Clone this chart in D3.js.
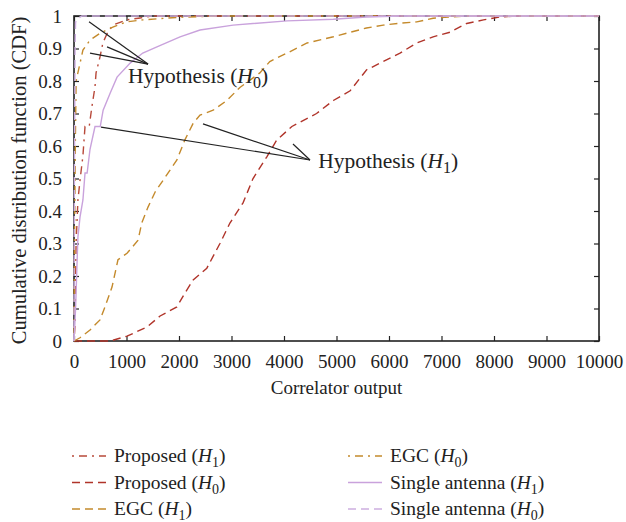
<!DOCTYPE html>
<html>
<head>
    <script src="https://cdn.jsdelivr.net/npm/d3@7"></script>
    <meta charset="utf-8">
    <style>
        body { margin: 0; background: #fff; }
        text { font-family: "Liberation Serif", "DejaVu Serif", serif; fill: #222; }
    </style>
</head>
<body>
    <script>
        // CDF curves, [correlator output, CDF]
        var proposedH1 = [[0,0],[20,0.05],[40,0.3],[75,0.434],[115,0.495],[170,0.57],[210,0.66],
            [290,0.66],[340,0.72],[400,0.782],[420,0.825],[495,0.874],[550,0.917],[630,0.946],
            [740,0.972],[1000,0.988],[1260,0.994],[1500,1],[10000,1]];
        var proposedH0 = [[0,0],[270,0],[690,0],[1010,0.015],[1390,0.043],[1640,0.077],[1960,0.105],
            [2110,0.147],[2270,0.188],[2530,0.224],[2780,0.3],[2970,0.363],[3220,0.425],[3410,0.5],
            [3670,0.566],[3860,0.618],[4150,0.66],[4500,0.69],[4620,0.7],[4940,0.74],[5260,0.77],
            [5570,0.834],[5890,0.86],[6210,0.886],[6530,0.917],[6840,0.936],[7160,0.95],[7480,0.977],
            [7800,0.988],[8110,0.997],[8430,1],[10000,1]];
        var egcH1 = [[0,0],[114,0.01],[305,0.034],[495,0.065],[590,0.105],[724,0.166],[838,0.25],
            [1010,0.27],[1220,0.31],[1290,0.363],[1410,0.412],[1550,0.46],[1700,0.495],[1960,0.557],
            [2110,0.618],[2270,0.67],[2400,0.695],[2650,0.71],[2910,0.74],[3160,0.78],[3540,0.825],
            [3730,0.86],[4060,0.886],[4440,0.917],[4940,0.936],[5260,0.95],[5570,0.963],[5890,0.972],
            [6210,0.978],[6530,0.982],[6840,0.993],[7160,0.997],[7500,1],[10000,1]];
        var egcH0 = [[0,0],[10,0.3],[25,0.6],[40,0.8],[115,0.855],[170,0.895],[305,0.926],[495,0.947],
            [740,0.966],[1000,0.982],[1310,0.988],[2000,0.996],[2800,1],[10000,1]];
        var singleH1 = [[0,0],[30,0.1],[60,0.25],[75,0.32],[115,0.382],[170,0.434],[210,0.517],
            [250,0.517],[305,0.59],[400,0.66],[500,0.66],[555,0.71],[690,0.763],[820,0.812],
            [1070,0.855],[1310,0.886],[1580,0.905],[2020,0.936],[2400,0.957],[3030,0.972],
            [4060,0.985],[4940,0.99],[5570,0.997],[6200,1],[10000,1]];
        var singleH0 = [[0,0],[8,0.5],[20,0.9],[30,0.98],[55,0.99],[150,1],[10000,1]];

        var xTicks = [0,1000,2000,3000,4000,5000,6000,7000,8000,9000,10000];
        var yTicks = [0,0.1,0.2,0.3,0.4,0.5,0.6,0.7,0.8,0.9,1];

        var series = [
            { name: 'Proposed', h: '1', data: proposedH1, color: '#b8493a', dash: '2,5,8,5' },
            { name: 'Proposed', h: '0', data: proposedH0, color: '#b0342a', dash: '8,5' },
            { name: 'EGC', h: '1', data: egcH1, color: '#c48a2c', dash: '8,5' },
            { name: 'EGC', h: '0', data: egcH0, color: '#c48a2c', dash: '2,5,8,5' },
            { name: 'Single antenna', h: '1', data: singleH1, color: '#c9a2dc', dash: null },
            { name: 'Single antenna', h: '0', data: singleH0, color: '#cdaee0', dash: '8,5' }
        ];

        // annotation pointers in data units: [from, to]
        var h0Pointers = [[[286,0.982],[1410,0.852]],[[629,0.905],[1410,0.852]],[[305,0.886],[1410,0.852]]];
        var h1Pointers = [[[514,0.658],[4495,0.557]],[[2457,0.668],[4495,0.557]],[[4171,0.606],[4495,0.557]]];

        var width = 626, height = 522;
        var margin = { left: 74, right: 27, top: 16, bottom: 181 };

        var svg = d3.select('body').append('svg')
            .attr('width', width).attr('height', height);

        var x = d3.scaleLinear().domain([0, 10000]).range([margin.left, width - margin.right]);
        var y = d3.scaleLinear().domain([0, 1]).range([height - margin.bottom, margin.top]);

        var line = d3.line()
            .x(function (d) { return x(d[0]); })
            .y(function (d) { return y(d[1]); });

        // frame
        svg.append('rect')
            .attr('x', x(0)).attr('y', y(1))
            .attr('width', x(10000) - x(0)).attr('height', y(0) - y(1))
            .attr('fill', 'none').attr('stroke', '#222').attr('stroke-width', 1.6);

        // inward ticks on all four sides
        var tk = 5;
        svg.append('g').attr('transform', 'translate(0,' + y(0) + ')')
            .call(d3.axisBottom(x).tickValues(xTicks).tickSizeInner(-tk).tickSizeOuter(0).tickPadding(14).tickFormat(d3.format('d')));
        svg.append('g').attr('transform', 'translate(0,' + y(1) + ')')
            .call(d3.axisTop(x).tickValues(xTicks).tickSizeInner(-tk).tickSizeOuter(0).tickFormat(''));
        svg.append('g').attr('transform', 'translate(' + x(0) + ',0)')
            .call(d3.axisLeft(y).tickValues(yTicks).tickSizeInner(-tk).tickSizeOuter(0).tickPadding(12)
                .tickFormat(function (d) { return d === 0 || d === 1 ? d : d.toFixed(1); }));
        svg.append('g').attr('transform', 'translate(' + x(10000) + ',0)')
            .call(d3.axisRight(y).tickValues(yTicks).tickSizeInner(-tk).tickSizeOuter(0).tickFormat(''));

        svg.selectAll('.domain').remove();
        svg.selectAll('.tick line').attr('stroke', '#222').attr('stroke-width', 1.2);
        svg.selectAll('.tick text')
            .style('font-family', '"Liberation Serif", serif')
            .style('font-size', '19px').attr('fill', '#222');

        // curves
        svg.append('g').selectAll('path')
            .data(series)
            .enter()
            .append('path')
            .attr('d', function (d) { return line(d.data); })
            .attr('fill', 'none')
            .attr('stroke', function (d) { return d.color; })
            .attr('stroke-width', 1.4)
            .attr('stroke-dasharray', function (d) { return d.dash; });

        // annotations
        svg.append('g').selectAll('line')
            .data(h0Pointers.concat(h1Pointers))
            .enter()
            .append('line')
            .attr('x1', function (d) { return x(d[0][0]); })
            .attr('y1', function (d) { return y(d[0][1]); })
            .attr('x2', function (d) { return x(d[1][0]); })
            .attr('y2', function (d) { return y(d[1][1]); })
            .attr('stroke', '#222').attr('stroke-width', 1.2);

        function hypLabel(sel, prefix, sub, subSize) {
            sel.append('tspan').text(prefix + '(');
            sel.append('tspan').attr('font-style', 'italic').text('H');
            sel.append('tspan').attr('font-size', subSize + 'px').attr('dy', 5).text(sub);
            sel.append('tspan').attr('dy', -5).text(')');
        }

        hypLabel(svg.append('text').attr('x', x(1030)).attr('y', 83).style('font-size', '21.5px'), 'Hypothesis ', '0', 16);
        hypLabel(svg.append('text').attr('x', x(4650)).attr('y', 168).style('font-size', '21.5px'), 'Hypothesis ', '1', 16);

        // axis titles
        svg.append('text')
            .attr('x', (x(0) + x(10000)) / 2).attr('y', 394)
            .attr('text-anchor', 'middle').style('font-size', '19px')
            .text('Correlator output');
        svg.append('text')
            .attr('transform', 'translate(26,' + ((y(0) + y(1)) / 2 + 2) + ') rotate(-90)')
            .attr('text-anchor', 'middle').style('font-size', '20.5px')
            .text('Cumulative distribution function (CDF)');

        // legend, two columns
        var legend = svg.append('g').selectAll('g')
            .data(series)
            .enter()
            .append('g')
            .attr('transform', function (d, i) {
                var col = i < 3 ? 0 : 1, row = i % 3;
                return 'translate(' + (col === 0 ? 72 : 348) + ',' + (456 + row * 26.5) + ')';
            });
        legend.append('line')
            .attr('x1', 0).attr('x2', 34).attr('y1', 0).attr('y2', 0)
            .attr('stroke', function (d) { return d.color; })
            .attr('stroke-width', 1.4)
            .attr('stroke-dasharray', function (d) { return d.dash; });
        legend.append('text')
            .attr('x', 42).attr('y', 6).style('font-size', '19.5px')
            .each(function (d) { hypLabel(d3.select(this), d.name + ' ', d.h, 14); });
    </script>
</body>
</html>
